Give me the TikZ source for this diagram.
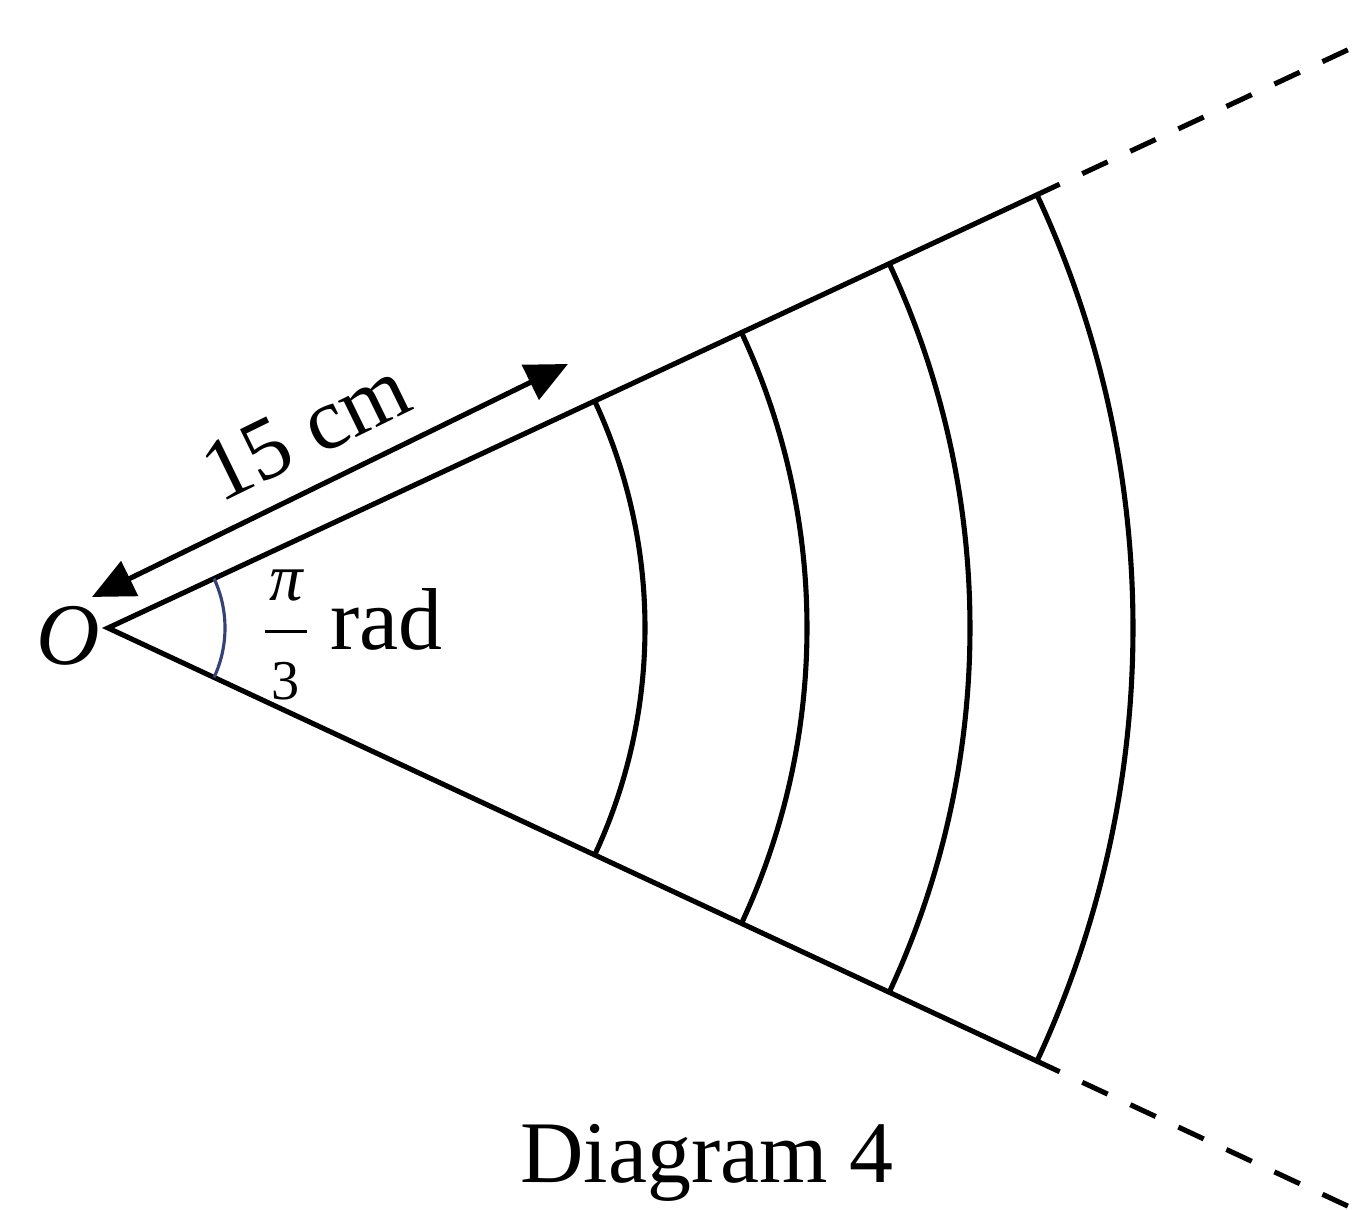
\documentclass[tikz,border=0pt]{standalone}
\usepackage{amsmath}
\usepackage{fontspec}
\setmainfont{Liberation Serif}
\usetikzlibrary{arrows.meta,positioning}
\definecolor{anglecol}{RGB}{52,66,120}
\tikzset{
  rim/.style={line width=1.45pt},
  ext/.style={line width=1.45pt, dash pattern=on 0.28cm off 0.25cm, dash phase=0.28cm},
  angmark/.style={line width=0.9pt, draw=anglecol},
  dim/.style={line width=1.45pt, {Triangle[length=4.2mm,width=3.8mm]}-{Triangle[length=4.2mm,width=3.8mm]}},
  lbl/.style={font=\fontsize{25}{30}\selectfont, inner sep=0pt}
}
\begin{document}
\begin{tikzpicture}
\useasboundingbox (0,0) rectangle (13.61,12.10);
\coordinate (O) at (1.08,5.82);
\coordinate (U1) at ([shift={(25:10.5)}]O);
\coordinate (U2) at ([shift={(25:14.3)}]O);
\coordinate (L1) at ([shift={(-25:10.5)}]O);
\coordinate (L2) at ([shift={(-25:14.3)}]O);
\coordinate (P) at (0.92,6.13);
\coordinate (Q) at (5.68,8.46);
\node[lbl, font=\fontsize{25}{30}\selectfont\itshape] (o) at (0.68,5.74) {O};
\node[lbl, anchor=base] (frac) at (2.86,5.60) {\fontsize{20}{24}\selectfont
  $\dfrac{\hbox to 12pt{\hss\fontsize{19}{19}\selectfont\itshape π\hss}}{\hbox{\fontsize{16}{16}\selectfont 3}}$};
\node[lbl, anchor=base west] (rad) at (3.30,5.60) {rad};
\node[lbl, anchor=base] (cap) at (7.07,0.27) {Diagram 4};
% sides of the sector
\draw[rim] (U1) -- (O) -- (L1);
\draw[ext] (U1) -- (U2);
\draw[ext] (L1) -- (L2);
% arcs
\foreach \r in {5.37,6.99,8.62,10.25}
  \draw[rim] ([shift={(25:\r)}]O) arc[start angle=25, end angle=-25, radius=\r];
\draw[angmark] ([shift={(25:1.17)}]O) arc[start angle=25, end angle=-25, radius=1.17];
\draw[dim] (P) -- node[lbl, sloped, above=0.24cm] (len) {15 cm} (Q);
\end{tikzpicture}
\end{document}
